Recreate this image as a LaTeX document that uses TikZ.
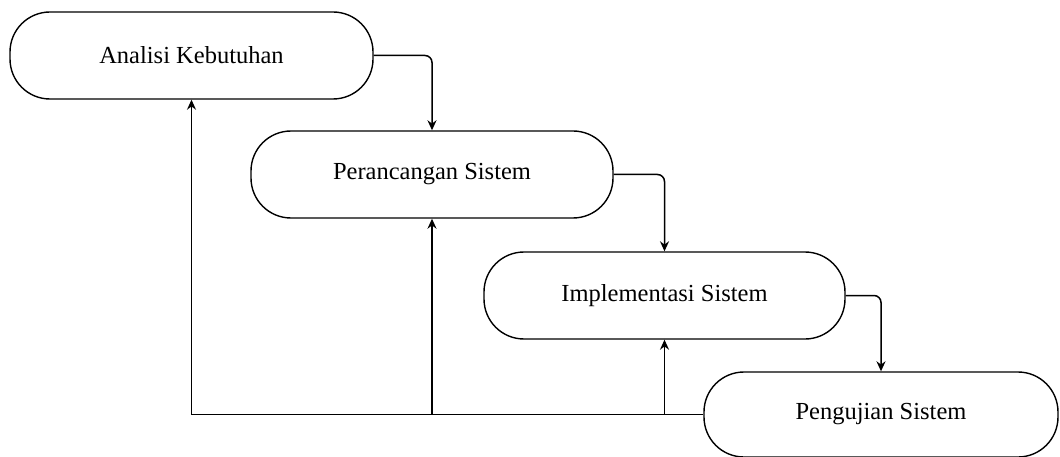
\documentclass[tikz,border=0pt]{standalone}
\usepackage{fontspec}
\setmainfont{Liberation Serif}
\usetikzlibrary{arrows.meta}
\begin{document}
\begin{tikzpicture}[x=1pt,y=-1pt,
  stage/.style={draw=black, line width=1.4pt, rounded corners=40pt, minimum height=87pt, inner sep=0pt, font=\fontsize{24.5}{28}\selectfont, fill=white},
  flow/.style={draw=black, line width=1.5pt, rounded corners=7pt, -{Stealth[length=10pt,width=9pt]}},
  back/.style={draw=black, line width=1.5pt, -{Stealth[length=10pt,width=9pt]}}]
\useasboundingbox (0,0) rectangle (1060,457);
\node[stage, minimum width=363pt] (A) at (191.5,55.5) {Analisi Kebutuhan};
\node[stage, minimum width=362pt] (B) at (432,174.5) {Perancangan Sistem};
\node[stage, minimum width=361pt] (C) at (664.5,295.5) {Implementasi Sistem};
\node[stage, minimum width=354pt, minimum height=85pt] (D) at (881,414.5) {Pengujian Sistem};
\coordinate (fa) at (A.south |- D.west);
\coordinate (fb) at (B.south |- D.west);
\coordinate (fc) at (C.south |- D.west);
\draw[flow] (A.east) -| (B.north);
\draw[flow] (B.east) -| (C.north);
\draw[flow] (C.east) -| (D.north);
\draw[back] (D.west) -- (fa) -- (A.south);
\draw[back] (fb) -- (B.south);
\draw[back] (fc) -- (C.south);
\end{tikzpicture}
\end{document}
